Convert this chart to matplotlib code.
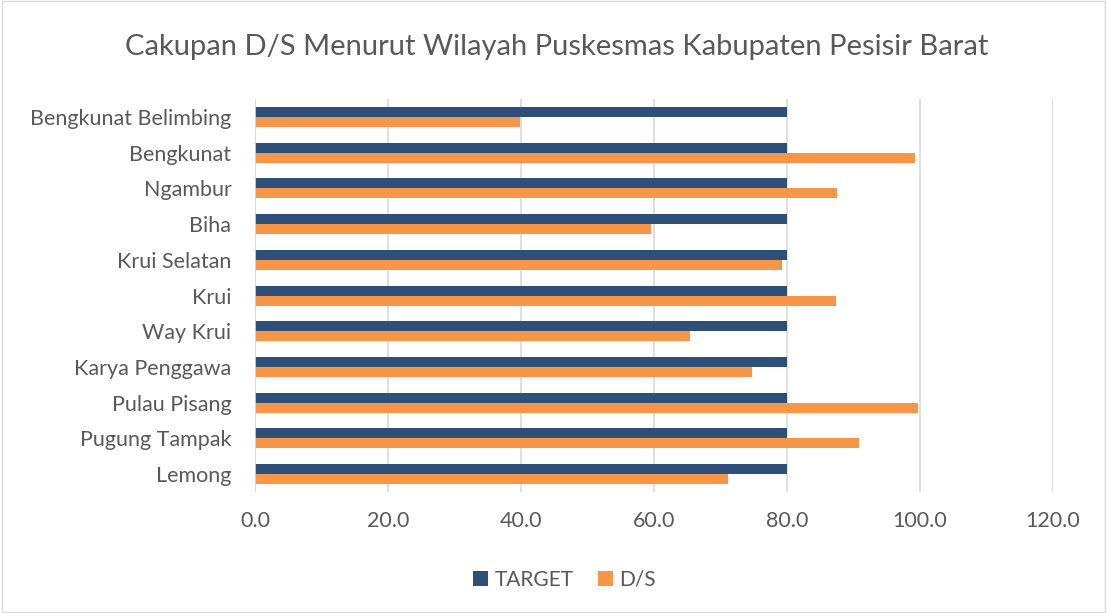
import matplotlib
matplotlib.use("Agg")
import matplotlib.pyplot as plt
import numpy as np
from matplotlib.patches import Rectangle

categories = ["Lemong", "Pugung Tampak", "Pulau Pisang", "Karya Penggawa", "Way Krui",
              "Krui", "Krui Selatan", "Biha", "Ngambur", "Bengkunat", "Bengkunat Belimbing"]
target = [80, 80, 80, 80, 80, 80, 80, 80, 80, 80, 80]
ds = [71.2, 90.8, 99.7, 74.8, 65.4, 87.3, 79.2, 59.5, 87.5, 99.2, 39.8]
xticks = [0, 20, 40, 60, 80, 100, 120]

plt.rcParams['font.family'] = ['Lato', 'DejaVu Sans']
fig = plt.figure(figsize=(11.07, 6.13), dpi=100)
ax = fig.add_axes([0.2304, 0.1974, 0.7208, 0.641])

y = np.arange(len(categories))
h = 0.28
ax.barh(y + h/2, target, height=h, color="#2E4F77", label="TARGET", zorder=3)
ax.barh(y - h/2, ds, height=h, color="#F79646", label="D/S", zorder=3)

ax.set_xlim(0, 120)
ax.set_ylim(-0.5, len(categories) - 0.5)
ax.set_xticks(xticks)
ax.set_xticklabels([f"{v:.1f}" for v in xticks])
ax.set_yticks(y)
ax.set_yticklabels(categories)
ax.tick_params(axis='both', length=0, labelsize=15.5, labelcolor="#595959")
ax.tick_params(axis='x', pad=14)
ax.tick_params(axis='y', pad=17)
ax.grid(axis='x', color="#D9D9D9", linewidth=1.2, zorder=0)
for s in ax.spines.values():
    s.set_visible(False)
ax.axvline(0, color="#D9D9D9", linewidth=1.2, zorder=4)

fig.suptitle("Cakupan D/S Menurut Wilayah Puskesmas Kabupaten Pesisir Barat",
             x=0.503, y=0.945, fontsize=21, color="#595959")

handles, labels = ax.get_legend_handles_labels()
fig.legend(handles, labels, loc='center', bbox_to_anchor=(0.51, 0.054), ncol=2,
           frameon=False, fontsize=15, labelcolor="#595959", handlelength=0.7,
           handleheight=0.7, handletextpad=0.3, columnspacing=1.2)

fig.patches.append(Rectangle((0.002, 0.002), 0.996, 0.996, transform=fig.transFigure,
                             fill=False, edgecolor="#D9D9D9", linewidth=1))
fig.savefig("out.png", dpi=100, facecolor="white")
